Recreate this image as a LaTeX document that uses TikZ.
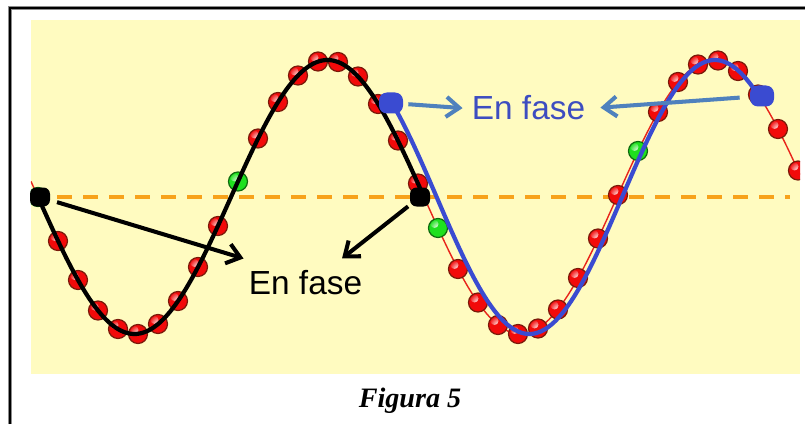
\documentclass[tikz,border=0pt]{standalone}
\usepackage{fontspec}
\setmainfont{Liberation Serif}
\newfontfamily\fasefont{Liberation Sans}
\usetikzlibrary{arrows.meta}
\definecolor{FaseYellow}{HTML}{FFFBC0}
\definecolor{FaseOrange}{HTML}{F7A21B}
\definecolor{FaseRed}{HTML}{F20A0A}
\definecolor{FaseDarkRed}{HTML}{7A1A0A}
\definecolor{FaseLine}{HTML}{E8251B}
\definecolor{FaseGreen}{HTML}{1EE01E}
\definecolor{FaseDarkGreen}{HTML}{0F6A0F}
\definecolor{FaseBlue}{HTML}{3A4BD1}
\definecolor{FaseText}{HTML}{3D4DC0}
\definecolor{FaseArrow}{HTML}{4F81BD}

\begin{document}
\begin{tikzpicture}[x=1cm,y=1cm,
  shine/.style={path picture={\shade[inner color=white,outer color=#1]
      ([xshift=-0.07cm,yshift=0.08cm]path picture bounding box.center) circle (0.08);}},
  redball/.style={fill=FaseRed,draw=FaseDarkRed,line width=0.7pt,shine=FaseRed},
  greenball/.style={fill=FaseGreen,draw=FaseDarkGreen,line width=0.7pt,shine=FaseGreen},
  blackdot/.style={fill=black,rounded corners=0.13cm,minimum width=0.40cm,minimum height=0.38cm,inner sep=0pt},
  bluedot/.style={fill=FaseBlue,rounded corners=0.16cm,minimum width=0.48cm,minimum height=0.42cm,inner sep=0pt},
  karrow/.style={line width=2.3pt,-{Straight Barb[length=0.26cm,width=0.40cm]}},
  barrow/.style={FaseArrow,line width=2.3pt,-{Straight Barb[length=0.26cm,width=0.40cm]}},
  fasetext/.style={font=\fasefont\fontsize{19}{22}\selectfont,inner sep=0.1cm}]
\path[use as bounding box] (0,0) rectangle (16.10,8.48);
% frame and panel
\draw[black!45,line width=2pt] (0.20,0) -- (0.20,8.32) -- (16.10,8.32);
\draw[line width=0.9pt] (0.20,0) -- (0.20,8.32) -- (16.10,8.32);
\fill[FaseYellow] (0.62,1.00) rectangle (16.00,8.08);
\begin{scope}
\clip (0.62,1.00) rectangle (16.00,8.08);
\draw[FaseOrange,line width=2.2pt,dash pattern=on 0.30cm off 0.22cm] (0.62,4.54) -- (15.80,4.54);
\draw[FaseLine,line width=0.8pt] plot[domain=0.62:16.00,samples=200] (\x,{4.54-2.74*sin(46.632*(\x-0.76))});
% balls
\path[greenball] (0.76,4.54) circle (0.19);
\path[redball] (1.16,3.66) circle (0.19);
\path[redball] (1.56,2.88) circle (0.19);
\path[redball] (1.96,2.27) circle (0.19);
\path[redball] (2.36,1.90) circle (0.19);
\path[redball] (2.76,1.80) circle (0.19);
\path[redball] (3.16,2.00) circle (0.19);
\path[redball] (3.56,2.46) circle (0.19);
\path[redball] (3.96,3.14) circle (0.19);
\path[redball] (4.36,3.96) circle (0.19);
\path[greenball] (4.76,4.85) circle (0.19);
\path[redball] (5.16,5.71) circle (0.19);
\path[redball] (5.56,6.44) circle (0.19);
\path[redball] (5.96,6.97) circle (0.19);
\path[redball] (6.36,7.25) circle (0.19);
\path[redball] (6.76,7.24) circle (0.19);
\path[redball] (7.16,6.95) circle (0.19);
\path[redball] (7.56,6.40) circle (0.19);
\path[redball] (7.96,5.67) circle (0.19);
\path[redball] (8.36,4.81) circle (0.19);
\path[greenball] (8.76,3.92) circle (0.19);
\path[redball] (9.16,3.10) circle (0.19);
\path[redball] (9.56,2.43) circle (0.19);
\path[redball] (9.96,1.98) circle (0.19);
\path[redball] (10.36,1.80) circle (0.19);
\path[redball] (10.76,1.91) circle (0.19);
\path[redball] (11.16,2.29) circle (0.19);
\path[redball] (11.56,2.92) circle (0.19);
\path[redball] (11.96,3.71) circle (0.19);
\path[redball] (12.36,4.58) circle (0.19);
\path[greenball] (12.76,5.46) circle (0.19);
\path[redball] (13.16,6.24) circle (0.19);
\path[redball] (13.56,6.84) circle (0.19);
\path[redball] (13.96,7.19) circle (0.19);
\path[redball] (14.36,7.27) circle (0.19);
\path[redball] (14.76,7.06) circle (0.19);
\path[redball] (15.16,6.59) circle (0.19);
\path[redball] (15.56,5.90) circle (0.19);
\path[redball] (15.96,5.07) circle (0.19);
\end{scope}
% waves
\draw[line width=2.4pt] plot[domain=0.76:8.48,samples=150] (\x,{4.54-2.74*sin(46.632*(\x-0.76))});
\draw[FaseBlue,line width=2.4pt] plot[domain=7.84:15.26,samples=150] (\x,{4.54-2.74*sin(316.7+48.518*(\x-7.84))});
% markers
\node[blackdot] (dotK1) at (0.80,4.54) {};
\node[blackdot] (dotK2) at (8.40,4.54) {};
\node[bluedot] (dotB1) at (7.82,6.42) {};
\node[bluedot] (dotB2) at (15.24,6.56) {};
% labels
\node[fasetext,anchor=base] (txtK) at (6.11,2.60) {En fase};
\node[fasetext,FaseText,anchor=base,inner sep=0.18cm] (txtB) at (10.57,6.08) {En fase};
\draw[karrow,shorten <=0.14cm] (dotK1) -- ([yshift=0.12cm]txtK.north west);
\draw[karrow,shorten <=0.04cm] (dotK2) -- ([xshift=0.73cm,yshift=0.12cm]txtK.north);
\draw[barrow,shorten <=0.1cm] (dotB1) -- (txtB.west);
\draw[barrow,shorten <=0.2cm,shorten >=0.12cm] (dotB2) -- (txtB.east);
\node[font=\bfseries\itshape\fontsize{16}{19}\selectfont,anchor=base] (figcap) at (8.20,0.34) {Figura 5};
\end{tikzpicture}
\end{document}
